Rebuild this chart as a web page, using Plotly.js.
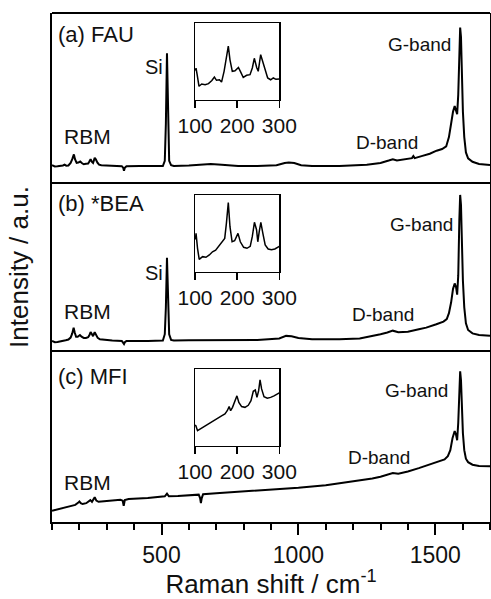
<!DOCTYPE html>
<html>
<head>
<meta charset="utf-8">
<script src="https://cdn.plot.ly/plotly-3.0.1.min.js"></script>
<style>html,body{margin:0;padding:0;background:#fff;overflow:hidden}#chart{width:491px;height:599px}</style>
</head>
<body>
<div id="chart"></div>
<script>
// ---- Main spectra (Raman shift, normalized intensity per panel) ----
const faU_x = [100,110,120,130,140,146,152,160,168,174,180,184,190,196,203,210,216,224,232,236,241,246,250,256,260,266,272,280,300,330,355,360,363,366,372,420,480,505,512,516,520,524,528,535,545,600,650,680,720,780,850,920,950,965,985,1010,1050,1150,1250,1300,1330,1345,1360,1390,1415,1420,1425,1450,1480,1505,1525,1540,1550,1558,1565,1571,1576,1580,1584,1588,1591,1594,1597,1601,1606,1612,1620,1636,1660,1700];
const faU_y = [0.105,0.097,0.098,0.099,0.103,0.108,0.102,0.103,0.118,0.14,0.168,0.14,0.118,0.12,0.126,0.116,0.11,0.113,0.114,0.125,0.14,0.124,0.118,0.148,0.14,0.12,0.108,0.104,0.102,0.1,0.099,0.09,0.072,0.09,0.099,0.1,0.098,0.1,0.13,0.35,0.763,0.35,0.13,0.105,0.1,0.103,0.108,0.112,0.108,0.1,0.1,0.105,0.118,0.12,0.118,0.105,0.1,0.1,0.108,0.118,0.132,0.14,0.132,0.14,0.146,0.158,0.146,0.158,0.172,0.19,0.2,0.215,0.27,0.35,0.42,0.452,0.43,0.405,0.52,0.8,0.914,0.86,0.66,0.42,0.27,0.18,0.145,0.125,0.112,0.106];

const bea_x = [100,110,120,130,140,150,160,168,174,179,183,188,194,202,208,216,224,232,236,241,246,250,256,261,267,275,290,320,355,360,363,366,372,450,505,512,516,520,524,528,535,545,600,640,680,750,850,930,955,975,1000,1050,1150,1224,1270,1300,1325,1345,1365,1400,1440,1467,1504,1530,1542,1550,1558,1565,1571,1576,1580,1584,1588,1591,1594,1597,1601,1606,1612,1620,1636,1660,1700];
const bea_y = [0.06,0.052,0.054,0.056,0.06,0.064,0.068,0.08,0.105,0.139,0.11,0.085,0.085,0.095,0.085,0.078,0.078,0.082,0.092,0.112,0.1,0.088,0.112,0.1,0.078,0.07,0.066,0.062,0.06,0.052,0.042,0.052,0.06,0.06,0.062,0.1,0.26,0.555,0.26,0.1,0.066,0.062,0.064,0.064,0.068,0.066,0.066,0.075,0.09,0.088,0.078,0.07,0.07,0.075,0.088,0.1,0.11,0.121,0.112,0.115,0.13,0.139,0.159,0.175,0.19,0.225,0.29,0.37,0.402,0.38,0.335,0.45,0.78,0.929,0.87,0.66,0.42,0.26,0.165,0.125,0.105,0.095,0.091];

const mfi_x = [100,120,140,160,175,185,195,200,205,212,225,235,240,246,252,256,262,270,290,320,350,358,362,366,380,450,505,512,520,527,560,600,636,641,644,647,652,700,800,900,1000,1100,1160,1224,1270,1300,1330,1345,1365,1400,1440,1467,1504,1534,1546,1555,1563,1571,1576,1580,1584,1588,1591,1594,1597,1601,1606,1612,1620,1636,1660,1700];
const mfi_y = [0.066,0.074,0.082,0.09,0.095,0.1,0.112,0.12,0.11,0.105,0.11,0.12,0.128,0.118,0.135,0.145,0.125,0.118,0.122,0.126,0.13,0.125,0.095,0.128,0.134,0.14,0.146,0.15,0.166,0.15,0.152,0.157,0.16,0.14,0.11,0.14,0.163,0.168,0.178,0.19,0.2,0.215,0.228,0.242,0.255,0.265,0.28,0.287,0.282,0.295,0.315,0.33,0.351,0.366,0.385,0.42,0.49,0.532,0.51,0.478,0.58,0.78,0.881,0.83,0.68,0.52,0.42,0.37,0.35,0.335,0.328,0.326];

// ---- Inset spectra (RBM region, 100-300 cm-1) ----
const insA_x = [101,102.5,105,109.5,116,124,132,140,146,151,158,163,169,173.5,179,183,188.5,195,203,208.5,214.5,222.5,230.5,236,240.7,246.3,250,255.8,260.5,266,272.4,279.5,285.8,292,297.6,300];
const insA_y = [0.38,0.41,0.33,0.175,0.205,0.196,0.209,0.25,0.296,0.253,0.26,0.23,0.37,0.5,0.7,0.52,0.37,0.378,0.42,0.36,0.29,0.318,0.326,0.413,0.54,0.42,0.37,0.587,0.5,0.37,0.283,0.26,0.283,0.266,0.274,0.27];
const insB_x = [101,102.5,106,110,118,126,134,141.5,149,157,165,170.5,174.5,179,183,188,194,202,207.5,215.4,223.3,231,236,241,246,249,252.3,256.2,261,266.5,273.6,281.5,289.5,297.5,300];
const insB_y = [0.42,0.5,0.305,0.16,0.196,0.188,0.218,0.26,0.28,0.335,0.39,0.435,0.63,0.9,0.587,0.39,0.404,0.5,0.39,0.318,0.305,0.33,0.46,0.644,0.548,0.39,0.52,0.644,0.5,0.348,0.296,0.287,0.296,0.33,0.33];
const insC_x = [100,102,106,115.5,127.5,139,151,163,171,176.5,181,184.5,189,194.7,199.5,204,210.6,218.5,226.4,232.8,238.3,243,247,251,254.3,258,263.7,271.5,279.5,287.5,295.5,300];
const insC_y = [0.27,0.26,0.196,0.23,0.27,0.305,0.348,0.39,0.413,0.456,0.51,0.456,0.5,0.587,0.65,0.565,0.51,0.5,0.527,0.587,0.71,0.726,0.63,0.717,0.857,0.74,0.64,0.62,0.63,0.65,0.674,0.69];

const insetTicks = [100, 200, 300];
const mainTicks = [500, 1000, 1500];

// ---- Layout geometry ----
const W = 491, H = 599, L = 52, R = 1, T = 13, B = 77;
const PW = W - L - R, PH = H - T - B;
const px = x => (x - L) / PW;
const py = y => (H - B - y) / PH;

const FONT = '"Liberation Sans", Arial, sans-serif';
const INK = '#111';

const dC = [0, py(351)], dB = [py(351), py(183)], dA = [py(183), 1];
const insXd = [px(195), px(279.3)];
const insAd = [py(99.7), py(23)], insBd = [py(271.7), py(195)], insCd = [py(445.7), py(369)];

const lineMain = {color: '#000', width: 2};
const lineIns = {color: '#000', width: 1.5};

const traces = [
  {x: faU_x, y: faU_y, xaxis: 'x', yaxis: 'y3', mode: 'lines', line: lineMain, name: '(a) FAU'},
  {x: bea_x, y: bea_y, xaxis: 'x', yaxis: 'y2', mode: 'lines', line: lineMain, name: '(b) *BEA'},
  {x: mfi_x, y: mfi_y, xaxis: 'x', yaxis: 'y', mode: 'lines', line: lineMain, name: '(c) MFI'},
  {x: insA_x, y: insA_y, xaxis: 'x4', yaxis: 'y4', mode: 'lines', line: lineIns},
  {x: insB_x, y: insB_y, xaxis: 'x5', yaxis: 'y5', mode: 'lines', line: lineIns},
  {x: insC_x, y: insC_y, xaxis: 'x6', yaxis: 'y6', mode: 'lines', line: lineIns}
];

function mainY(domain, extra) {
  return Object.assign({domain: domain, range: [0, 1], anchor: 'x', showgrid: false, zeroline: false,
    showticklabels: false, ticks: '', showline: true, mirror: true, linewidth: 2, linecolor: '#000', fixedrange: true}, extra || {});
}
function insX(anchor) {
  return {domain: insXd, anchor: anchor, range: [100, 300], tickmode: 'array', tickvals: insetTicks,
    ticks: 'outside', ticklen: 7, tickwidth: 1.5, tickcolor: '#000', showline: true, mirror: true,
    linewidth: 1.5, linecolor: '#000', showgrid: false, zeroline: false,
    tickfont: {family: FONT, size: 21, color: INK}, automargin: false};
}
function insY(domain, anchor) {
  return {domain: domain, anchor: anchor, range: [0, 1], showticklabels: false, ticks: '',
    showline: true, mirror: true, linewidth: 1.5, linecolor: '#000', showgrid: false, zeroline: false};
}

function ann(text, xc, yc, size) {
  return {text: text, x: px(xc), y: py(yc), xref: 'paper', yref: 'paper', xanchor: 'center', yanchor: 'middle',
    showarrow: false, font: {family: FONT, size: size || 19, color: INK}};
}

const annotations = [
  ann('(a) FAU', 96, 34, 22), ann('Si', 153.5, 66.5, 20), ann('RBM', 87, 136, 21), ann('G-band', 419, 44), ann('D-band', 386.5, 142),
  ann('(b) *BEA', 101, 203, 22), ann('Si', 153.5, 273, 20), ann('RBM', 87, 312, 21), ann('G-band', 421, 224), ann('D-band', 383, 314),
  ann('(c) MFI', 93, 377, 22), ann('RBM', 87, 482, 21), ann('G-band', 416.7, 390), ann('D-band', 378.5, 457.5)
];

const shapes = [py(183), py(351), 1].map(yy => ({type: 'line', xref: 'paper', yref: 'paper', x0: 0, x1: 1, y0: yy, y1: yy,
  line: {color: '#000', width: 2}}));

const layout = {
  width: W, height: H,
  margin: {l: L, r: R, t: T, b: B, pad: 0},
  paper_bgcolor: '#fff', plot_bgcolor: '#fff',
  showlegend: false,
  font: {family: FONT, color: INK},
  xaxis: {domain: [0, 1], anchor: 'y', range: [100, 1700], tickmode: 'array', tickvals: mainTicks,
    ticks: 'outside', ticklen: 11, tickwidth: 2, tickcolor: '#000',
    minor: {tickmode: 'linear', tick0: 0, dtick: 100, ticks: 'outside', ticklen: 6, tickwidth: 2, tickcolor: '#000', showgrid: false},
    showline: true, linewidth: 2, linecolor: '#000', showgrid: false, zeroline: false,
    tickfont: {family: FONT, size: 23, color: INK},
    title: {text: 'Raman shift / cm<sup>-1</sup>', font: {family: FONT, size: 26, color: INK}, standoff: 7},
    automargin: false},
  yaxis: mainY(dC),
  yaxis2: mainY(dB, {title: {text: 'Intensity / a.u.', font: {family: FONT, size: 26, color: INK}, standoff: 14}, automargin: false}),
  yaxis3: mainY(dA),
  xaxis4: insX('y4'), yaxis4: insY(insAd, 'x4'),
  xaxis5: insX('y5'), yaxis5: insY(insBd, 'x5'),
  xaxis6: insX('y6'), yaxis6: insY(insCd, 'x6'),
  annotations: annotations,
  shapes: shapes
};

Plotly.newPlot('chart', traces, layout, {staticPlot: true, displayModeBar: false});
</script>
</body>
</html>
